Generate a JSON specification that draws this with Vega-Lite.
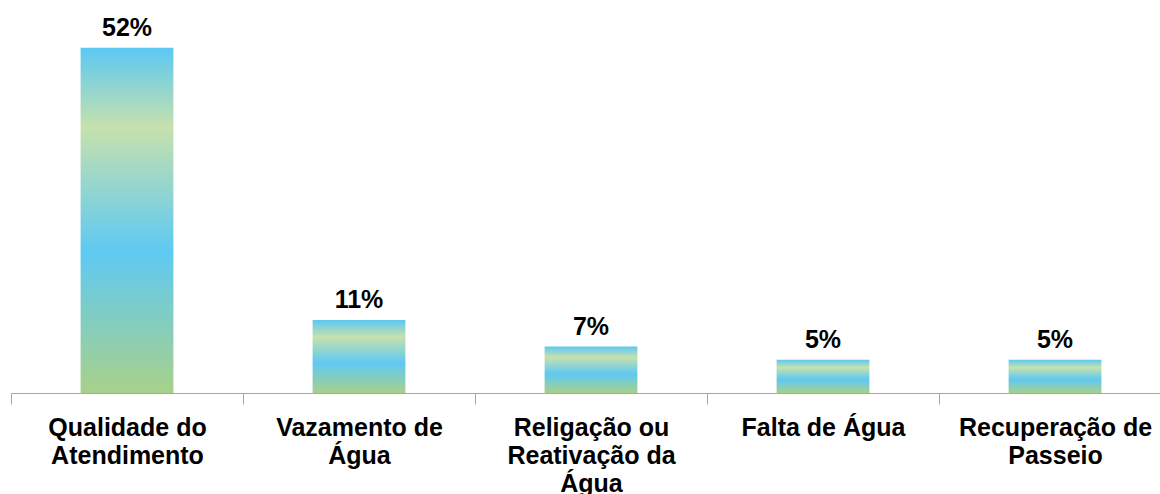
{
  "$schema": "https://vega.github.io/schema/vega-lite/v6.json",
  "width": 1149,
  "height": 393,
  "autosize": {"type": "none"},
  "padding": {"left": 11, "top": 0, "right": 0, "bottom": 101},
  "background": "white",
  "config": {"view": {"stroke": null}},
  "data": {
    "values": [
      {"categoria": "Qualidade do Atendimento", "percentual": 0.52},
      {"categoria": "Vazamento de Água", "percentual": 0.11},
      {"categoria": "Religação ou Reativação da Água", "percentual": 0.07},
      {"categoria": "Falta de Água", "percentual": 0.05},
      {"categoria": "Recuperação de Passeio", "percentual": 0.05}
    ]
  },
  "encoding": {
    "x": {
      "field": "categoria",
      "type": "nominal",
      "sort": null,
      "scale": {"paddingInner": 0, "paddingOuter": 0, "range": [0, 1160]},
      "axis": {
        "title": null,
        "labelAngle": 0,
        "tickBand": "extent",
        "tickSize": 11,
        "tickColor": "#a6a6a6",
        "domainColor": "#a6a6a6",
        "labelFont": "Liberation Sans",
        "labelFontWeight": "bold",
        "labelFontSize": 25,
        "labelColor": "#000000",
        "labelBaseline": "top",
        "labelPadding": 11,
        "labelLineHeight": 28,
        "labelLimit": 0,
        "labelOverlap": false,
        "labelFlush": false,
        "labelBound": false,
        "labelExpr": "datum.value == 'Qualidade do Atendimento' ? ['Qualidade do', 'Atendimento'] : datum.value == 'Vazamento de Água' ? ['Vazamento de', 'Água'] : datum.value == 'Religação ou Reativação da Água' ? ['Religação ou', 'Reativação da', 'Água'] : datum.value == 'Recuperação de Passeio' ? ['Recuperação de', 'Passeio'] : datum.label"
      }
    },
    "y": {
      "field": "percentual",
      "type": "quantitative",
      "scale": {"domain": [0, 0.592]},
      "axis": null
    }
  },
  "layer": [
    {
      "mark": {
        "type": "bar",
        "width": {"band": 0.4},
        "color": {
          "gradient": "linear",
          "x1": 0, "y1": 0, "x2": 0, "y2": 1,
          "stops": [
            {"offset": 0, "color": "#5cc8f3"},
            {"offset": 0.23, "color": "#c6e1ad"},
            {"offset": 0.59, "color": "#5fc9f3"},
            {"offset": 1, "color": "#a8d18a"}
          ]
        }
      }
    },
    {
      "mark": {
        "type": "text",
        "baseline": "alphabetic",
        "dy": -12,
        "font": "Liberation Sans",
        "fontWeight": "bold",
        "fontSize": 25,
        "color": "#000000"
      },
      "encoding": {
        "text": {"field": "percentual", "type": "quantitative", "format": ".0%"}
      }
    }
  ]
}
